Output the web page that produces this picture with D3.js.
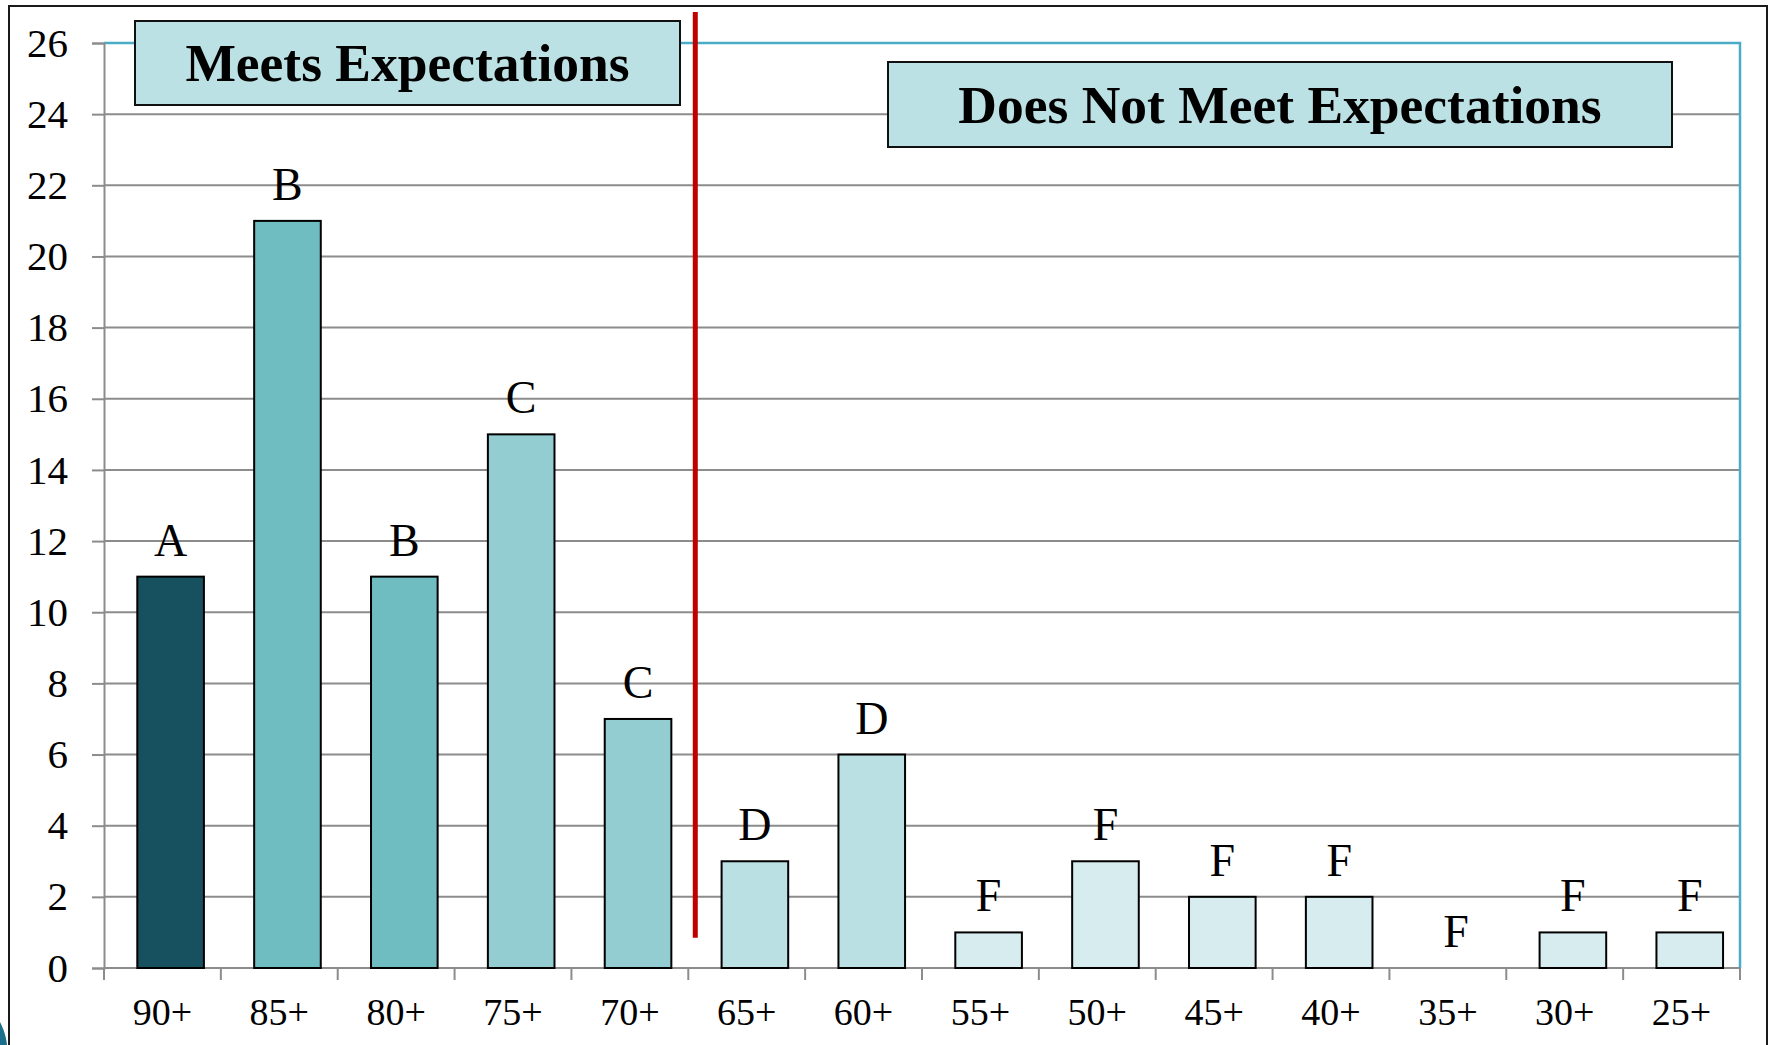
<!DOCTYPE html>
<html>
<head>
<meta charset="utf-8">
<script src="https://cdn.jsdelivr.net/npm/d3@7.9.0/dist/d3.min.js"></script>
<style>
  html, body { margin: 0; padding: 0; background: #fff; }
  svg { display: block; font-family: "Liberation Serif", "Times New Roman", serif; }
</style>
</head>
<body>
<svg id="chart" width="1769" height="1045"></svg>
<script>
// ======== data ========
const categories = ['90+', '85+', '80+', '75+', '70+', '65+', '60+', '55+', '50+', '45+', '40+', '35+', '30+', '25+'];
const counts     = [11, 21, 11, 15, 7, 3, 6, 1, 3, 2, 2, 0, 1, 1];
const grades     = ['A', 'B', 'B', 'C', 'C', 'D', 'D', 'F', 'F', 'F', 'F', 'F', 'F', 'F'];
const yTicks     = [0, 2, 4, 6, 8, 10, 12, 14, 16, 18, 20, 22, 24, 26];
const boxTexts   = ['Meets Expectations', 'Does Not Meet Expectations'];

// bar fill per grade
const gradeColor = { A: '#17505e', B: '#6fbcc1', C: '#93cdd1', D: '#bae0e3', F: '#d7ecee' };

// ======== layout ========
const W = 1769, H = 1045;
const plot = { left: 104, right: 1740, top: 43, bottom: 968 };

const svg = d3.select('#chart');
svg.append('rect').attr('width', W).attr('height', H).attr('fill', '#fff');

// slide frame
svg.append('rect')
  .attr('x', 9).attr('y', 6).attr('width', 1758).attr('height', H + 20)
  .attr('fill', 'none').attr('stroke', '#1a1a1a').attr('stroke-width', 2);
svg.append('path')
  .attr('d', 'M0,1022 C4,1030 6,1036 7,1045 L0,1045 Z')
  .attr('fill', '#1b6f8a');

// scales
const x = d3.scaleBand().domain(categories).range([plot.left, plot.right]).padding(0);
const y = d3.scaleLinear().domain([0, 26]).range([plot.bottom, plot.top]);
const bw = x.bandwidth();

// ======== gridlines ========
svg.append('g')
  .selectAll('line')
  .data(yTicks.filter(t => t > 0 && t < 26))
  .enter().append('line')
  .attr('x1', plot.left).attr('x2', plot.right)
  .attr('y1', d => y(d)).attr('y2', d => y(d))
  .attr('stroke', '#8c8c8c').attr('stroke-width', 2);

// plot border top / right (teal)
svg.append('path')
  .attr('d', `M${plot.left},${y(26)} H${plot.right} V${plot.bottom}`)
  .attr('fill', 'none').attr('stroke', '#4bacc6').attr('stroke-width', 2.5);

// ======== axes ========
const yAxis = d3.axisLeft(y).tickValues(yTicks).tickSize(12).tickPadding(24).tickFormat(d3.format('d'));
const gy = svg.append('g').attr('transform', `translate(${plot.left},0)`).call(yAxis);
gy.select('.domain').attr('stroke', '#8c8c8c').attr('stroke-width', 2);
gy.selectAll('.tick line').attr('stroke', '#8c8c8c').attr('stroke-width', 2);
gy.selectAll('.tick text')
  .attr('font-size', 41).attr('fill', '#000')
  .attr('font-family', '"Liberation Serif", serif');

// x axis: line + ticks at band edges + centred labels
const gx = svg.append('g');
gx.append('line')
  .attr('x1', plot.left).attr('x2', plot.right)
  .attr('y1', plot.bottom).attr('y2', plot.bottom)
  .attr('stroke', '#8c8c8c').attr('stroke-width', 2);
gx.selectAll('line.tk')
  .data(categories.concat(['end']))
  .enter().append('line')
  .attr('class', 'tk')
  .attr('x1', (d, i) => plot.left + i * bw).attr('x2', (d, i) => plot.left + i * bw)
  .attr('y1', plot.bottom).attr('y2', plot.bottom + 12)
  .attr('stroke', '#8c8c8c').attr('stroke-width', 2);
gx.selectAll('text')
  .data(categories)
  .enter().append('text')
  .attr('x', d => x(d) + bw / 2)
  .attr('y', 1025)
  .attr('text-anchor', 'middle')
  .attr('font-size', 38)
  .text(d => d);

// ======== bars ========
const barOff = bw * 0.285, barW = bw * 0.57;
const bars = categories.map((c, i) => ({ cat: c, value: counts[i], grade: grades[i] }));

svg.append('g')
  .selectAll('rect')
  .data(bars.filter(d => d.value > 0))
  .enter().append('rect')
  .attr('x', d => x(d.cat) + barOff)
  .attr('y', d => y(d.value))
  .attr('width', barW)
  .attr('height', d => y(0) - y(d.value))
  .attr('fill', d => gradeColor[d.grade])
  .attr('stroke', '#000').attr('stroke-width', 2);

// grade letters above bars
svg.append('g')
  .selectAll('text')
  .data(bars)
  .enter().append('text')
  .attr('x', d => x(d.cat) + barOff + barW / 2)
  .attr('y', d => y(d.value) - 21)
  .attr('text-anchor', 'middle')
  .attr('font-size', 46)
  .text(d => d.grade);

// ======== red divider between 70+ and 65+ ========
const divX = x('65+') + 7;
svg.append('line')
  .attr('x1', divX).attr('x2', divX)
  .attr('y1', 12).attr('y2', y(0.85))
  .attr('stroke', '#c00000').attr('stroke-width', 5);

// ======== label boxes ========
const boxes = [
  { text: boxTexts[0], x: 135, y: 21, w: 545, h: 84 },
  { text: boxTexts[1], x: 888, y: 62, w: 784, h: 85 }
];
const gb = svg.append('g').selectAll('g').data(boxes).enter().append('g');
gb.append('rect')
  .attr('x', d => d.x).attr('y', d => d.y)
  .attr('width', d => d.w).attr('height', d => d.h)
  .attr('fill', '#bce1e4').attr('stroke', '#111').attr('stroke-width', 2);
gb.append('text')
  .attr('x', d => d.x + d.w / 2)
  .attr('y', d => d.y + d.h / 2 + 18)
  .attr('text-anchor', 'middle')
  .attr('font-size', 53.5).attr('font-weight', 'bold')
  .text(d => d.text);
</script>
</body>
</html>
